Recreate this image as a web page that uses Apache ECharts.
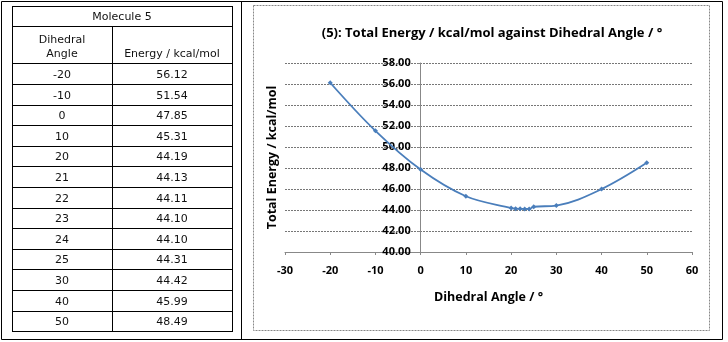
<!DOCTYPE html>
<html>
<head>
<meta charset="utf-8">
<script src="https://cdn.jsdelivr.net/npm/echarts@6/dist/echarts.min.js"></script>
<style>
  html, body { margin: 0; padding: 0; background: #fff; }
  #chart { position: absolute; left: 0; top: 0; width: 728px; height: 342px; }
  #tbl { position: absolute; left: 11.5px; top: 5.5px; border-collapse: collapse; table-layout: fixed;
         font-family: "DejaVu Sans", sans-serif; font-size: 11px; color: #111; z-index: 5; }
  #tbl td { border: 1px solid #000; padding: 0 0 2px 0; text-align: center; vertical-align: bottom; line-height: 14px; overflow: hidden; white-space: nowrap; }
</style>
</head>
<body>
<div id="chart"></div>
<table id="tbl"></table>
<script>
// ---- data ----
const tableTitle = "Molecule 5";
const colHeaders = ["Dihedral<br>Angle", "Energy / kcal/mol"];
const angles = [-20, -10, 0, 10, 20, 21, 22, 23, 24, 25, 30, 40, 50];
const energies = [56.12, 51.54, 47.85, 45.31, 44.19, 44.13, 44.11, 44.10, 44.10, 44.31, 44.42, 45.99, 48.49];
const xTickMin = -30, xTickMax = 60, xTickStep = 10;
const yTickMin = 40, yTickMax = 58, yTickStep = 2;
const chartTitle = "(5): Total Energy / kcal/mol against Dihedral Angle / °";
const xName = "Dihedral Angle / °";
const yName = "Total Energy / kcal/mol";

// ---- table ----
const tbl = document.getElementById('tbl');
let html = '<colgroup><col style="width:100px"><col style="width:120px"></colgroup>';
html += '<tr style="height:20.7px"><td colspan="2">' + tableTitle + '</td></tr>';
html += '<tr style="height:37.3px"><td>' + colHeaders[0] + '</td><td>' + colHeaders[1] + '</td></tr>';
for (let i = 0; i < angles.length; i++) {
  html += '<tr style="height:20.6px"><td>' + angles[i] + '</td><td>' + energies[i].toFixed(2) + '</td></tr>';
}
tbl.innerHTML = html;

// ---- chart ----
const chart = echarts.init(document.getElementById('chart'), null, { renderer: 'canvas' });
const FONT = 'Lato, "Liberation Sans", sans-serif';
const FONT2 = '"Open Sans", Lato, sans-serif';
const gridLeft = 285, gridRight = 36;
const plotW = 728 - gridLeft - gridRight;
// y axis crosses at x = 0 of the value x-axis
const yAxisOffset = -plotW * (0 - xTickMin) / (xTickMax - xTickMin);
const data = angles.map((a, i) => [a, energies[i]]);
chart.setOption({
  animation: false,
  backgroundColor: '#fff',
  grid: { left: gridLeft, right: gridRight, top: 63, bottom: 90, containLabel: false },
  xAxis: {
    type: 'value', min: xTickMin, max: xTickMax, interval: xTickStep,
    name: xName, nameLocation: 'middle', nameGap: 39,
    nameTextStyle: { fontFamily: FONT2, fontWeight: 'bold', fontSize: 12.5, color: '#000' },
    axisLine: { onZero: false, lineStyle: { color: '#888', width: 1 } },
    axisTick: { show: true, length: 3, lineStyle: { color: '#888' } },
    axisLabel: { fontFamily: FONT2, fontWeight: 'bold', fontSize: 11, color: '#000', margin: 13 },
    splitLine: { show: false }
  },
  yAxis: {
    type: 'value', min: yTickMin, max: yTickMax, interval: yTickStep,
    position: 'left', offset: yAxisOffset,
    name: yName, nameLocation: 'middle', nameGap: 142, nameRotate: 90,
    nameTextStyle: { fontFamily: FONT2, fontWeight: 'bold', fontSize: 12.5, color: '#000' },
    axisLine: { show: true, onZero: false, lineStyle: { color: '#888', width: 1 } },
    axisTick: { show: true, length: 3, lineStyle: { color: '#888' } },
    axisLabel: { fontFamily: FONT2, fontWeight: 'bold', fontSize: 11, color: '#000', margin: 10,
                 formatter: v => v.toFixed(2) },
    splitLine: { show: true, lineStyle: { color: '#777', type: [2, 1], width: 1 } }
  },
  series: [{
    type: 'line', data: data, smooth: 0.35,
    symbol: 'diamond', symbolSize: 5, showSymbol: true,
    lineStyle: { color: '#4a7ebb', width: 1.8 },
    itemStyle: { color: '#4a7ebb' },
    z: 3
  }],
  graphic: [
    { type: 'rect', shape: { x: 1.5, y: 1.5, width: 721, height: 338 }, style: { fill: 'none', stroke: '#000', lineWidth: 1 }, silent: true },
    { type: 'line', shape: { x1: 241.5, y1: 1.5, x2: 241.5, y2: 339.5 }, style: { stroke: '#000', lineWidth: 1 }, silent: true },
    { type: 'rect', shape: { x: 253.5, y: 5.5, width: 456, height: 325 }, style: { fill: 'none', stroke: '#888', lineWidth: 1, lineDash: [2, 1] }, silent: true },
    { type: 'text', x: 492, y: 33, style: { text: chartTitle, fontFamily: FONT2, fontWeight: 'bold', fontSize: 13, fill: '#000', align: 'center', verticalAlign: 'middle' }, silent: true }
  ]
});
</script>
</body>
</html>
